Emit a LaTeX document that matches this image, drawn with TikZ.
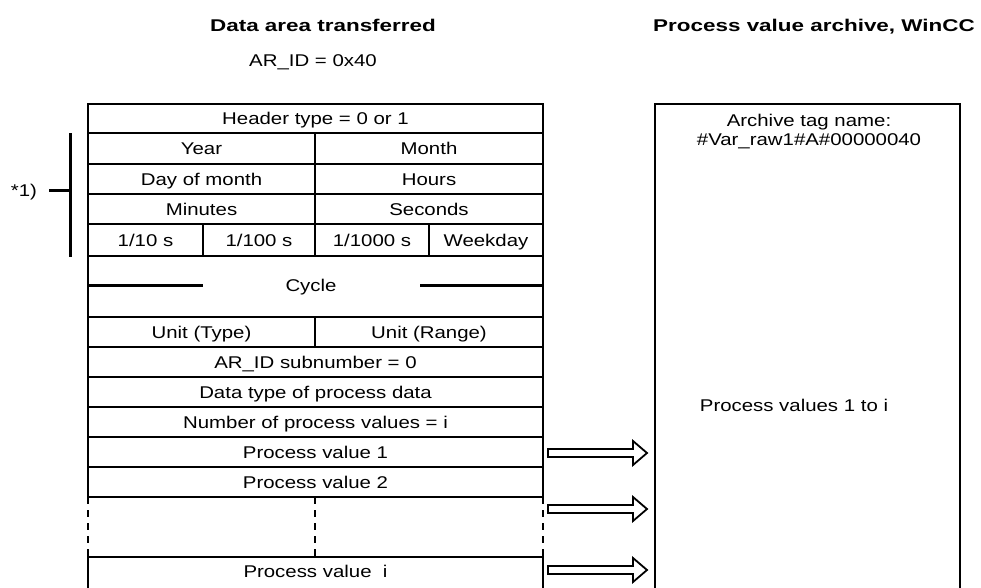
\documentclass[tikz,border=0pt]{standalone}
\usepackage{fontspec}
\setmainfont{Liberation Sans}[FakeStretch=1.2]
\newfontfamily\titlefont{Liberation Sans}[FakeStretch=1.32]
\begin{document}
\begin{tikzpicture}[x=1pt,y=-1pt,
  gridline/.style={line width=1.6pt, draw=black},
  heavy/.style={line width=3pt, draw=black},
  dashv/.style={line width=1.6pt, draw=black, dash pattern=on 7pt off 6pt},
  txt/.style={inner sep=0pt, text height=12pt, text depth=0pt, font=\fontsize{17}{20}\selectfont},
  ttl/.style={inner sep=0pt, text height=12.5pt, text depth=0pt, font=\titlefont\bfseries\fontsize{17}{20}\selectfont},
  blockarrow/.style={line width=1.8pt, draw=black, fill=white, line join=miter}]
\useasboundingbox (0,0) rectangle (981,587);
\fill[white] (0,0) rectangle (981,587);
\clip (0,0) rectangle (981,587);

% titles
\node[ttl] (t1) at (323,25) {Data area transferred};
\node[txt] (t2) at (313,60) {AR\_ID = 0x40};
\node[ttl] (t3) at (814,25) {Process value archive, WinCC};

% table grid
\draw[gridline] (88,104) rectangle (543,133);
\draw[gridline] (88,133) rectangle (315,164);
\draw[gridline] (315,133) rectangle (543,164);
\draw[gridline] (88,164) rectangle (315,194);
\draw[gridline] (315,164) rectangle (543,194);
\draw[gridline] (88,194) rectangle (315,224);
\draw[gridline] (315,194) rectangle (543,224);
\draw[gridline] (88,224) rectangle (203,256);
\draw[gridline] (203,224) rectangle (315,256);
\draw[gridline] (315,224) rectangle (429,256);
\draw[gridline] (429,224) rectangle (543,256);
\draw[gridline] (88,256) rectangle (543,317);
\draw[gridline] (88,317) rectangle (315,347);
\draw[gridline] (315,317) rectangle (543,347);
\draw[gridline] (88,347) rectangle (543,377);
\draw[gridline] (88,377) rectangle (543,407);
\draw[gridline] (88,407) rectangle (543,437);
\draw[gridline] (88,437) rectangle (543,467);
\draw[gridline] (88,467) rectangle (543,497);
\draw[dashv] (88,497) -- (88,557);
\draw[dashv] (315,497) -- (315,557);
\draw[dashv] (543,497) -- (543,557);
\draw[gridline] (88,600) -- (88,557) -- (543,557) -- (543,600);

% cycle marks
\draw[heavy] (88,285) -- (203,285);
\draw[heavy] (420,285) -- (543,285);

% bracket *1)
\draw[heavy] (70,133) -- (70,257);
\draw[heavy] (49,190) -- (70,190);
\node[txt] (fn) at (24,190) {*1)};

% cell texts
\node[txt] (hdr) at (315.5,118.5) {Header type = 0 or 1};
\node[txt] (year) at (201.5,148.5) {Year};
\node[txt] (month) at (429,148.5) {Month};
\node[txt] (day) at (201.5,179) {Day of month};
\node[txt] (hours) at (429,179) {Hours};
\node[txt] (min) at (201.5,209) {Minutes};
\node[txt] (sec) at (429,209) {Seconds};
\node[txt] (s10) at (145.5,240) {1/10 s};
\node[txt] (s100) at (259,240) {1/100 s};
\node[txt] (s1000) at (372,240) {1/1000 s};
\node[txt] (wday) at (486,240) {Weekday};
\node[txt] (cyc) at (311,285) {Cycle};
\node[txt] (utype) at (201.5,332) {Unit (Type)};
\node[txt] (urange) at (429,332) {Unit (Range)};
\node[txt] (subn) at (315.5,362) {AR\_ID subnumber = 0};
\node[txt] (dtype) at (315.5,392) {Data type of process data};
\node[txt] (nval) at (315.5,422) {Number of process values = i};
\node[txt] (pv1) at (315.5,452) {Process value 1};
\node[txt] (pv2) at (315.5,482) {Process value 2};
\node[txt] (pvi) at (315.5,571) {Process value~ i};

% archive box
\draw[gridline] (655,600) -- (655,104) -- (960,104) -- (960,600);
\node[txt] (arc1) at (809,120) {Archive tag name:};
\node[txt] (arc2) at (809,139) {\#Var\_raw1\#A\#00000040};
\node[txt] (arc3) at (794,405) {Process values 1 to i};

% block arrows
\coordinate (a1) at (548,453);
\coordinate (a2) at (548,509);
\coordinate (a3) at (548,570);
\foreach \a in {a1,a2,a3}{
  \draw[blockarrow] (\a) ++(0,-4) -- ++(85,0) -- ++(0,-8) -- ++(14,12) -- ++(-14,12) -- ++(0,-8) -- ++(-85,0) -- cycle;
}
\end{tikzpicture}
\end{document}
